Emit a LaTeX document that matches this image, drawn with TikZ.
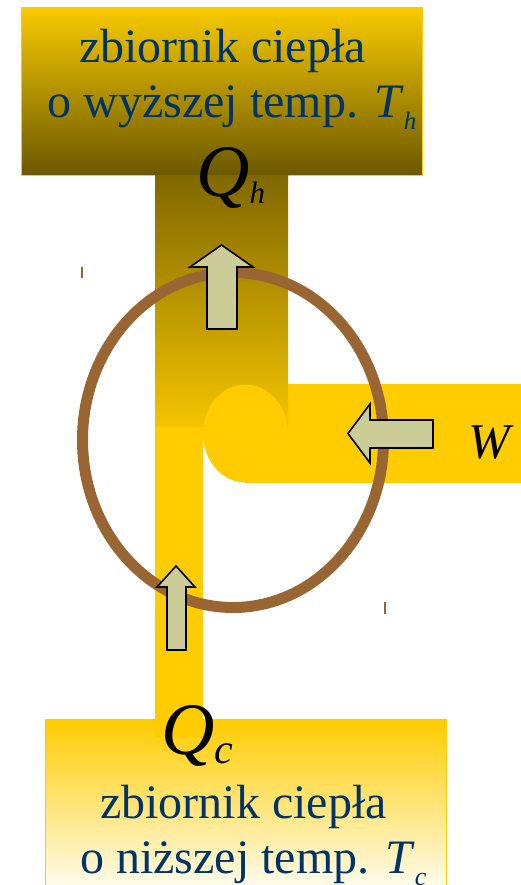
\documentclass[tikz,border=0pt]{standalone}
\usepackage{fontspec}
\setmainfont{Liberation Serif}
\definecolor{gold}{HTML}{FFCC00}
\definecolor{hottop}{HTML}{F8CA00}
\definecolor{hotbot}{HTML}{6B5800}
\definecolor{coltop}{HTML}{806800}
\definecolor{colbot}{HTML}{F4C400}
\definecolor{coldbot}{HTML}{FFFCEE}
\definecolor{ringc}{HTML}{996633}
\definecolor{arrowfill}{HTML}{CCCC99}
\definecolor{navy}{HTML}{003366}
\newcommand{\mysub}[3]{\raisebox{#3}{\fontsize{#1}{#1}\selectfont\itshape #2}}
\tikzset{
  reservoir/.style={draw=gold, line width=1.2pt, inner sep=0pt, anchor=north west},
  bigtext/.style={text=navy, inner sep=0pt, font=\fontsize{48}{55}\selectfont},
  qlabel/.style={text=black, inner sep=0pt, anchor=base west},
  blockarrow/.style={draw=black, fill=arrowfill, line width=1.6pt, line join=miter},
  ringline/.style={draw=ringc, line width=11pt},
  tick/.style={draw=ringc, line width=1.3pt}
}
\begin{document}
\begin{tikzpicture}[x=1pt,y=-1pt]
\useasboundingbox (0,0) rectangle (521,885);
% top reservoir
\node[reservoir, minimum width=401pt, minimum height=168pt, top color=hottop, bottom color=hotbot] (hot) at (21,7) {};
% W arm (under the hot column)
\fill[gold] (245,384) rectangle (521,483);
% hot column
\fill[top color=coltop, bottom color=colbot] (155,176) rectangle (288,427);
% round end of the W arm
\fill[gold] (245.5,433.5) ellipse [x radius=42.5, y radius=49];
% bottom reservoir
\node[reservoir, minimum width=401pt, minimum height=168pt, top color=gold, bottom color=coldbot] (cold) at (45,719) {};
% cold column
\fill[gold] (155,427) rectangle (203,737);
% engine ring
\draw[ringline] (233,440) ellipse [x radius=150.5, y radius=167.5];
\draw[tick] (82,267) -- (82,278);
\draw[tick] (385,602) -- (385,614);
% arrows
\draw[blockarrow] (221.5,245) -- (253,267) -- (237,267) -- (237,329) -- (207,329) -- (207,267) -- (190,267) -- cycle;
\draw[blockarrow] (348,433.5) -- (370,404) -- (370,420) -- (433,420) -- (433,448) -- (370,448) -- (370,463) -- cycle;
\draw[blockarrow] (176,566) -- (195,587) -- (186,587) -- (186,650) -- (167,650) -- (167,587) -- (157,587) -- cycle;
% texts
\node[bigtext, anchor=base] (ht1) at (222.5,63) {zbiornik ciepła};
\node[bigtext, anchor=base west] (ht2) at (47.5,118) {o wyższej temp. \textit{T}\mysub{25pt}{h}{-12pt}};
\node[qlabel] (qh) at (196,197) {\fontsize{74}{74}\selectfont\itshape Q\mysub{31pt}{h}{-6pt}};
\node[qlabel] (w) at (468,458) {\fontsize{50}{50}\selectfont\itshape W};
\node[qlabel] (qc) at (161,754) {\fontsize{74}{74}\selectfont\itshape Q\mysub{42pt}{c}{-9pt}};
\node[bigtext, anchor=base] (ct1) at (243.5,818) {zbiornik ciepła};
\node[bigtext, anchor=base west] (ct2) at (80,873) {o niższej temp. \textit{T}\mysub{26pt}{c}{-12pt}};
\end{tikzpicture}
\end{document}
